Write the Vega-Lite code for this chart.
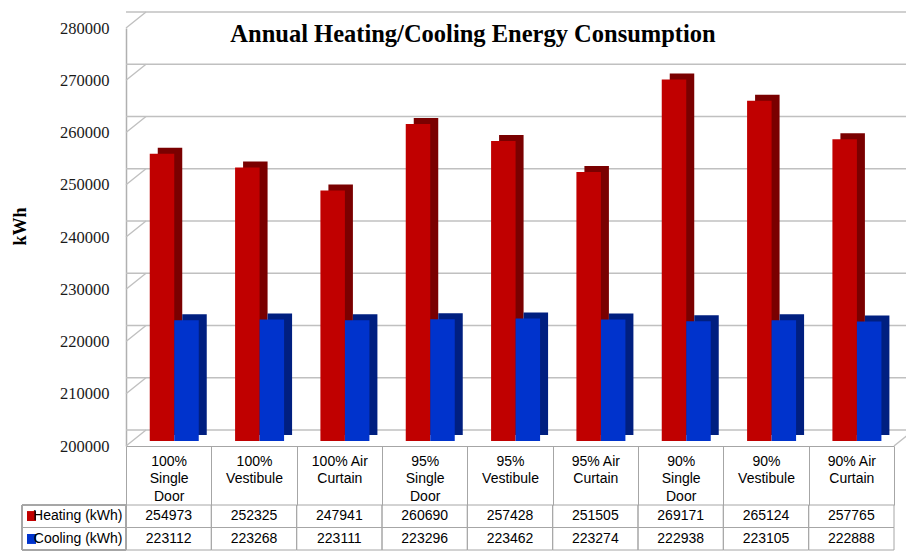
{
  "$schema": "https://vega.github.io/schema/vega-lite/v6.json",
  "autosize": {"type": "none"},
  "padding": {"left": 126, "top": 28, "right": 12, "bottom": 0},
  "width": 768,
  "height": 523,
  "background": "white",
  "config": {"view": {"stroke": null}},
  "title": {
    "text": "Annual Heating/Cooling Energy Consumption",
    "font": "Liberation Serif",
    "fontSize": 24.5,
    "fontWeight": "bold",
    "color": "black",
    "anchor": "middle",
    "baseline": "alphabetic",
    "offset": 0,
    "dx": -37,
    "dy": 55
  },
  "datasets": {
    "rows": [
      {"category": "100% Single Door", "series": "Heating (kWh)", "value": 254973},
      {"category": "100% Vestibule", "series": "Heating (kWh)", "value": 252325},
      {"category": "100% Air Curtain", "series": "Heating (kWh)", "value": 247941},
      {"category": "95% Single Door", "series": "Heating (kWh)", "value": 260690},
      {"category": "95% Vestibule", "series": "Heating (kWh)", "value": 257428},
      {"category": "95% Air Curtain", "series": "Heating (kWh)", "value": 251505},
      {"category": "90% Single Door", "series": "Heating (kWh)", "value": 269171},
      {"category": "90% Vestibule", "series": "Heating (kWh)", "value": 265124},
      {"category": "90% Air Curtain", "series": "Heating (kWh)", "value": 257765},
      {"category": "100% Single Door", "series": "Cooling (kWh)", "value": 223112},
      {"category": "100% Vestibule", "series": "Cooling (kWh)", "value": 223268},
      {"category": "100% Air Curtain", "series": "Cooling (kWh)", "value": 223111},
      {"category": "95% Single Door", "series": "Cooling (kWh)", "value": 223296},
      {"category": "95% Vestibule", "series": "Cooling (kWh)", "value": 223462},
      {"category": "95% Air Curtain", "series": "Cooling (kWh)", "value": 223274},
      {"category": "90% Single Door", "series": "Cooling (kWh)", "value": 222938},
      {"category": "90% Vestibule", "series": "Cooling (kWh)", "value": 223105},
      {"category": "90% Air Curtain", "series": "Cooling (kWh)", "value": 222888}
    ],
    "ticks": [
      {"t": 200000}, {"t": 210000}, {"t": 220000}, {"t": 230000}, {"t": 240000},
      {"t": 250000}, {"t": 260000}, {"t": 270000}, {"t": 280000}
    ]
  },
  "layer": [
    {
      "layer": [
        {
          "data": {"name": "ticks"},
          "mark": {"type": "rule", "color": "#C0C0C0", "strokeWidth": 1.5, "xOffset": 20, "x2Offset": 20, "yOffset": -16},
          "encoding": {
            "y": {
              "field": "t", "type": "quantitative",
              "scale": {"domain": [200000, 280000], "range": [418, 0], "zero": false, "nice": false},
              "axis": {
                "values": [200000, 210000, 220000, 230000, 240000, 250000, 260000, 270000, 280000],
                "format": "d",
                "grid": false,
                "ticks": false,
                "domainColor": "#B0B0B0",
                "domainWidth": 1.5,
                "labelFont": "Liberation Serif",
                "labelFontSize": 16.5,
                "labelColor": "#1a1a1a",
                "labelPadding": 17,
                "title": "kWh",
                "titleFont": "Liberation Serif",
                "titleFontSize": 18,
                "titleFontWeight": "bold",
                "titleColor": "black",
                "titleBaseline": "alphabetic",
                "titleX": -101,
                "titleY": 198
              }
            }
          }
        },
        {
          "data": {"name": "ticks"},
          "mark": {"type": "rule", "color": "#C0C0C0", "strokeWidth": 1.5, "x2Offset": 20, "y2Offset": -16},
          "encoding": {
            "x": {"datum": "100% Single Door", "type": "nominal", "bandPosition": 0,
              "scale": {"domain": ["100% Single Door", "100% Vestibule", "100% Air Curtain", "95% Single Door", "95% Vestibule", "95% Air Curtain", "90% Single Door", "90% Vestibule", "90% Air Curtain"], "paddingInner": 0, "paddingOuter": 0},
              "axis": {
                "title": null,
                "orient": "bottom",
                "offset": -105,
                "domainColor": "#A6A6A6",
                "domainWidth": 1,
                "tickBand": "extent",
                "tickSize": 59,
                "tickColor": "#A6A6A6",
                "tickWidth": 1,
                "labelAngle": 0,
                "labelFont": "Liberation Sans",
                "labelFontSize": 14,
                "labelColor": "black",
                "labelLineHeight": 17.5,
                "labelBaseline": "top",
                "labelPadding": -51,
                "labelExpr": "indexof(datum.label, 'Air') >= 0 ? [substring(datum.label, 0, lastindexof(datum.label, ' ')), 'Curtain'] : split(datum.label, ' ')"
              }
            },
            "x2": {"datum": "100% Single Door", "bandPosition": 0},
            "y": {"field": "t", "type": "quantitative"},
            "y2": {"field": "t"}
          }
        },
        {
          "data": {"values": [{}]},
          "mark": {"type": "rule", "color": "#C0C0C0", "strokeWidth": 1.5, "x2Offset": 20, "y2Offset": -16},
          "encoding": {
            "x": {"datum": "90% Air Curtain", "type": "nominal", "bandPosition": 1},
            "x2": {"datum": "90% Air Curtain", "bandPosition": 1},
            "y": {"datum": 200000, "type": "quantitative"},
            "y2": {"datum": 200000}
          }
        },
        {
          "data": {"name": "rows"},
          "transform": [{"filter": "datum.series == 'Heating (kWh)'"}],
          "mark": {"type": "bar", "color": "#7A0000", "width": 24.5, "xOffset": 1.33, "yOffset": -11, "y2Offset": -11},
          "encoding": {
            "x": {"field": "category", "type": "nominal"},
            "y": {"field": "value", "type": "quantitative"},
            "y2": {"datum": 200000}
          }
        },
        {
          "data": {"name": "rows"},
          "transform": [{"filter": "datum.series == 'Heating (kWh)'"}],
          "mark": {"type": "bar", "color": "#C00000", "width": 24.5, "xOffset": -6.67, "yOffset": -5, "y2Offset": -5},
          "encoding": {
            "x": {"field": "category", "type": "nominal"},
            "y": {"field": "value", "type": "quantitative"},
            "y2": {"datum": 200000}
          }
        },
        {
          "data": {"name": "rows"},
          "transform": [{"filter": "datum.series == 'Cooling (kWh)'"}],
          "mark": {"type": "bar", "color": "#001F80", "width": 24.5, "xOffset": 25.83, "yOffset": -11, "y2Offset": -11},
          "encoding": {
            "x": {"field": "category", "type": "nominal"},
            "y": {"field": "value", "type": "quantitative"},
            "y2": {"datum": 200000}
          }
        },
        {
          "data": {"name": "rows"},
          "transform": [{"filter": "datum.series == 'Cooling (kWh)'"}],
          "mark": {"type": "bar", "color": "#0033CC", "width": 24.5, "xOffset": 17.83, "yOffset": -5, "y2Offset": -5},
          "encoding": {
            "x": {"field": "category", "type": "nominal"},
            "y": {"field": "value", "type": "quantitative"},
            "y2": {"datum": 200000}
          }
        }
      ]
    },
    {
      "data": {"name": "rows"},
      "layer": [
        {
          "mark": {"type": "rect", "filled": false, "color": "#A6A6A6", "strokeWidth": 1},
          "encoding": {
            "x": {"field": "category", "type": "nominal"},
            "y": {
              "field": "series", "type": "nominal",
              "scale": {"type": "band", "domain": ["Heating (kWh)", "Cooling (kWh)"], "range": [477, 522], "paddingInner": 0, "paddingOuter": 0},
              "axis": {
                "title": null,
                "orient": "left",
                "ticks": false,
                "domain": false,
                "labelFont": "Liberation Sans",
                "labelFontSize": 14,
                "labelColor": "black",
                "labelPadding": 4,
                "labelAlign": "right"
              }
            }
          }
        },
        {
          "mark": {"type": "rect", "filled": false, "color": "#A6A6A6", "strokeWidth": 1, "xOffset": -104},
          "encoding": {
            "x": {"datum": "100% Single Door", "type": "nominal", "bandPosition": 0},
            "x2": {"datum": "100% Single Door", "bandPosition": 0},
            "y": {"field": "series", "type": "nominal"}
          }
        },
        {
          "mark": {"type": "point", "shape": "square", "filled": true, "size": 81, "opacity": 1, "xOffset": -94.5},
          "encoding": {
            "x": {"datum": "100% Single Door", "type": "nominal", "bandPosition": 0},
            "y": {"field": "series", "type": "nominal"},
            "color": {"field": "series", "type": "nominal", "legend": null,
              "scale": {"domain": ["Heating (kWh)", "Cooling (kWh)"], "range": ["#C00000", "#0033CC"]}}
          }
        },
        {
          "mark": {"type": "text", "font": "Liberation Sans", "fontSize": 14, "color": "black"},
          "encoding": {
            "x": {"field": "category", "type": "nominal"},
            "y": {"field": "series", "type": "nominal"},
            "text": {"field": "value", "type": "quantitative", "format": "d"}
          }
        }
      ]
    }
  ],
  "resolve": {"scale": {"y": "independent"}, "axis": {"y": "independent"}}
}
